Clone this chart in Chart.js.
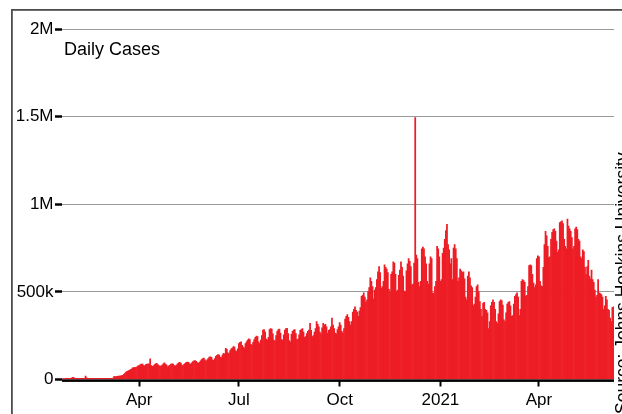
<!DOCTYPE html>
<html>
<head>
<meta charset="utf-8">
<script src="https://cdn.jsdelivr.net/npm/chart.js@4.4.1/dist/chart.umd.min.js"></script>
<style>
  html, body { margin: 0; padding: 0; background: #fff; }
  #wrap { width: 622px; height: 414px; }
</style>
</head>
<body>
<div id="wrap"><canvas id="cases" width="622" height="414"></canvas></div>
<script>
// daily new cases worldwide (thousands), one array per month
const jan2020 = [5, 5, 5, 6, 6, 6, 6, 6, 6, 12];
const feb2020 = [13, 7, 6, 6, 6, 6, 6, 6, 6, 6, 6, 20, 10, 6, 6, 6, 6, 6, 6, 6, 6, 6, 6, 6, 6, 6, 6, 6, 6];
const mar2020 = [6, 6, 6, 6, 6, 6, 6, 8, 16, 17, 17, 18, 19, 20, 21, 22, 24, 30, 37, 43, 46, 49, 52, 56, 60, 66, 68, 68, 70, 72, 78];
const apr2020 = [80, 85, 88, 88, 80, 78, 85, 88, 88, 90, 118, 80, 75, 78, 85, 90, 92, 85, 80, 75, 78, 82, 90, 95, 88, 82, 72, 78, 82, 88];
const may2020 = [90, 88, 80, 78, 82, 90, 95, 98, 92, 82, 80, 86, 92, 98, 100, 98, 90, 88, 95, 102, 106, 108, 104, 96, 92, 98, 106, 114, 120, 122, 112];
const jun2020 = [105, 112, 120, 128, 130, 126, 112, 110, 120, 132, 138, 142, 140, 128, 125, 140, 150, 145, 178, 172, 152, 148, 165, 175, 180, 188, 185, 165, 160, 175];
const jul2020 = [205, 212, 215, 195, 185, 180, 205, 215, 225, 232, 228, 200, 195, 212, 228, 240, 248, 245, 215, 205, 225, 250, 282, 285, 270, 230, 225, 240, 285, 290, 288];
const aug2020 = [260, 225, 220, 250, 275, 285, 288, 265, 228, 225, 255, 282, 290, 292, 262, 222, 215, 258, 275, 282, 285, 262, 228, 230, 255, 280, 285, 290, 270, 240, 245];
const sep2020 = [262, 275, 282, 320, 280, 245, 250, 270, 290, 330, 315, 300, 270, 260, 295, 320, 310, 315, 300, 265, 280, 285, 300, 350, 310, 290, 265, 260, 285, 300];
const oct2020 = [325, 310, 275, 265, 290, 345, 360, 370, 355, 330, 310, 330, 385, 400, 415, 395, 385, 360, 390, 410, 475, 480, 495, 470, 440, 455, 500, 525, 580, 560, 530];
const nov2020 = [460, 510, 525, 570, 615, 645, 610, 520, 530, 560, 655, 640, 630, 610, 515, 500, 600, 615, 672, 665, 600, 505, 510, 595, 625, 672, 640, 590, 505, 500];
const dec2020 = [620, 660, 690, 675, 645, 540, 545, 665, 1495, 710, 690, 555, 530, 560, 745, 755, 745, 700, 660, 560, 545, 660, 700, 690, 495, 490, 530, 560, 760, 745, 700];
const jan2021 = [560, 570, 720, 750, 800, 850, 885, 770, 740, 660, 690, 570, 750, 770, 745, 690, 560, 580, 630, 620, 610, 615, 575, 470, 455, 590, 615, 580, 535, 525, 420];
const feb2021 = [430, 470, 530, 540, 500, 445, 400, 360, 435, 440, 400, 395, 380, 290, 330, 420, 440, 455, 440, 400, 330, 320, 375, 445, 455, 450, 425, 340];
const mar2021 = [330, 380, 430, 440, 445, 420, 360, 365, 430, 475, 485, 495, 470, 365, 400, 560, 570, 565, 555, 475, 480, 530, 650, 655, 650, 600, 550, 525, 540, 690, 705];
const apr2021 = [700, 560, 535, 530, 640, 770, 845, 820, 760, 695, 700, 800, 840, 855, 860, 845, 790, 725, 740, 895, 900, 905, 890, 800, 760, 745, 915, 875, 860, 845];
const may2021 = [810, 745, 760, 860, 870, 855, 800, 790, 700, 690, 740, 730, 640, 600, 645, 680, 590, 575, 625, 570, 555, 510, 470, 480, 570, 495, 490, 485, 470, 400, 420];
const jun2021 = [475, 455, 400, 395, 350, 330, 410, 415];

const tickDates = ['2020-04-01', '2020-07-01', '2020-10-01', '2021-01-01', '2021-04-01'];
const tickLabels = ['Apr', 'Jul', 'Oct', '2021', 'Apr'];

const daily = [].concat(jan2020, feb2020, mar2020, apr2020, may2020, jun2020, jul2020, aug2020,
    sep2020, oct2020, nov2020, dec2020, jan2021, feb2021, mar2021, apr2021, may2021, jun2021);

// one category per day starting 22 Jan 2020
const days = daily.map((v, i) => new Date(Date.UTC(2020, 0, 22 + i)).toISOString().slice(0, 10));

const tickAt = {};
tickDates.forEach((d, i) => { tickAt[days.indexOf(d)] = tickLabels[i]; });

const font = { family: '"Liberation Sans", Arial, sans-serif', size: 17 };

// frame, axis line, title and source note
const decor = {
    id: 'decor',
    beforeDraw(chart) {
        const c = chart.ctx;
        c.save();
        c.fillStyle = '#fff';
        c.fillRect(0, 0, chart.width, chart.height);
        c.fillStyle = '#4d4d4d';
        c.fillRect(11, 9, chart.width - 11, 1.8);
        c.fillRect(11, 9, 1.8, chart.height - 9);
        c.restore();
    },
    afterDraw(chart) {
        const c = chart.ctx;
        const a = chart.chartArea;
        c.save();
        c.fillStyle = '#000';
        c.fillRect(a.left, a.bottom, a.right - a.left, 2.4);
        c.font = '18px "Liberation Sans", Arial, sans-serif';
        c.textBaseline = 'alphabetic';
        c.fillText('Daily Cases', a.left + 2, 55);
        c.translate(627.5, 414);
        c.rotate(-Math.PI / 2);
        c.font = '17.5px "Liberation Sans", Arial, sans-serif';
        c.fillText('Source: Johns Hopkins University', 0, 0);
        c.restore();
    }
};

new Chart(document.getElementById('cases'), {
    type: 'bar',
    data: {
        labels: days,
        datasets: [{
            data: daily,
            backgroundColor: '#ee1d25',
            borderWidth: 0,
            barPercentage: 1,
            categoryPercentage: 1
        }]
    },
    options: {
        responsive: false,
        animation: false,
        devicePixelRatio: 1,
        layout: { padding: { left: 0, right: 8, top: 29, bottom: 0 } },
        plugins: {
            legend: { display: false },
            tooltip: { enabled: false }
        },
        scales: {
            x: {
                border: { display: false },
                grid: {
                    drawOnChartArea: false,
                    offset: false,
                    tickLength: 7,
                    tickWidth: 2,
                    tickColor: ctx => (tickAt[ctx.index] !== undefined ? '#000' : 'rgba(0,0,0,0)')
                },
                ticks: {
                    autoSkip: false,
                    maxRotation: 0,
                    padding: 4,
                    color: '#000',
                    font: font,
                    callback: (v, i) => (tickAt[i] !== undefined ? tickAt[i] : '')
                },
                afterFit: s => { s.height = 34.5; }
            },
            y: {
                min: 0,
                max: 2000,
                border: { display: false },
                grid: {
                    color: '#9a9a9a',
                    lineWidth: 1,
                    tickColor: '#000',
                    tickLength: 7,
                    tickWidth: 2.5
                },
                ticks: {
                    stepSize: 500,
                    padding: 1.5,
                    color: '#000',
                    font: font,
                    callback: v => (v === 0 ? '0' : v < 1000 ? v + 'k' : (v / 1000) + 'M')
                },
                afterFit: s => { s.width = 62; }
            }
        }
    },
    plugins: [decor]
});
</script>
</body>
</html>
